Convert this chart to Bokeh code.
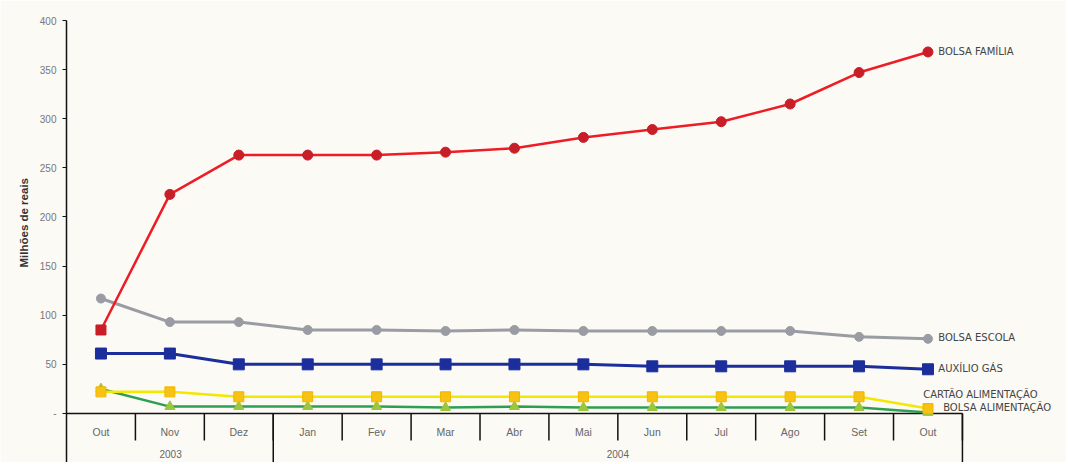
from bokeh.plotting import figure
from bokeh.models import FixedTicker, Title
from bokeh.core.properties import value
from bokeh.embed import file_html
from bokeh.resources import INLINE

months = ["Out", "Nov", "Dez", "Jan", "Fev", "Mar", "Abr", "Mai", "Jun", "Jul", "Ago", "Set", "Out"]
years = ["2003", "2004"]
year_sizes = [3, 10]

bolsa_familia = [85, 223, 263, 263, 263, 266, 270, 281, 289, 297, 315, 347, 368]
bolsa_escola = [117, 93, 93, 85, 85, 84, 85, 84, 84, 84, 84, 78, 76]
auxilio_gas = [61, 61, 50, 50, 50, 50, 50, 50, 48, 48, 48, 48, 45]
cartao_alim = [22, 22, 17, 17, 17, 17, 17, 17, 17, 17, 17, 17, 5]
bolsa_alim = [25, 7, 7, 7, 7, 6, 7, 6, 6, 6, 6, 6, 1]

y_ticks = [0, 50, 100, 150, 200, 250, 300, 350, 400]

BG = "#fbfaf5"
FONT = "Liberation Sans"
LFONT = "DejaVu Sans"

xs = [i + 0.5 for i in range(len(months))]
n = len(months)

p = figure(width=1066, height=462, output_backend="svg", toolbar_location=None,
           x_range=(0, 14.51), y_range=(-49.9, 400),
           min_border_left=66, min_border_right=0, min_border_top=20, min_border_bottom=0,
           background_fill_color=BG, border_fill_color=BG, outline_line_color=None)
p.xaxis.visible = False
p.xgrid.visible = False
p.ygrid.visible = False

ya = p.yaxis[0]
ya.ticker = FixedTicker(ticks=y_ticks)
ya.major_label_overrides = {0: "-"}
ya.minor_tick_line_color = None
ya.major_tick_in = 0
ya.major_tick_out = 4
ya.axis_line_color = "#111111"
ya.axis_line_width = 1.5
ya.major_tick_line_color = "#111111"
ya.major_label_text_font = FONT
ya.major_label_text_font_size = "10px"
ya.major_label_text_color = "#777777"
ya.major_label_standoff = 6

p.add_layout(Title(text="Milhões de reais", align="left", offset=195, standoff=14,
                   text_font=FONT, text_font_size="11.5px", text_font_style="bold",
                   text_color="#333333", background_fill_color=None), "left")

# baseline and category box
p.segment(x0=[0], y0=[0], x1=[n], y1=[0], line_color="#111111", line_width=1.5)
sep_x = list(range(1, n + 1))
p.segment(x0=sep_x, y0=[0] * len(sep_x), x1=sep_x, y1=[-27.5] * len(sep_x),
          line_color="#111111", line_width=1.5)
cum = 0
bounds = []
for s in year_sizes:
    cum += s
    bounds.append(cum)
p.segment(x0=bounds, y0=[0] * len(bounds), x1=bounds, y1=[-50] * len(bounds),
          line_color="#111111", line_width=1.5)

p.text(x=xs, y=[-19.3] * n, text=months, text_align="center", text_baseline="middle",
       text_font=value(FONT), text_font_size="10.5px", text_color="#666666")
year_x = [1.51, 8.0]
p.text(x=year_x, y=[-41.5] * len(years), text=years, text_align="center", text_baseline="middle",
       text_font=value(FONT), text_font_size="10px", text_color="#666666")

# series
p.line(xs, bolsa_alim, line_color="#2e9e52", line_width=2.5)
p.scatter(xs, bolsa_alim, marker="triangle", size=10, fill_color="#9cc63c", line_color="#9cc63c")

p.line(xs, cartao_alim, line_color="#f2e800", line_width=2.5)
p.scatter(xs, cartao_alim, marker="square", size=10, fill_color="#f6c214", line_color="#f4b400")

p.line(xs, auxilio_gas, line_color="#1c2e9c", line_width=3)
p.scatter(xs, auxilio_gas, marker="square", size=11, fill_color="#1c2e9c", line_color="#1c2e9c")

p.line(xs, bolsa_escola, line_color="#9a9ca4", line_width=3)
p.scatter(xs, bolsa_escola, marker="circle", size=9, fill_color="#9a9ca4", line_color="#9a9ca4")

p.line(xs, bolsa_familia, line_color="#ee1c25", line_width=2.5)
p.scatter(xs[:1], bolsa_familia[:1], marker="square", size=10, fill_color="#c81e28", line_color="#c81e28")
p.scatter(xs[1:], bolsa_familia[1:], marker="circle", size=10, fill_color="#c81e28", line_color="#c81e28")

# series labels
lab_x = [12.65, 12.65, 12.65, 12.43, 12.72]
lab_y = [368, 77, 46, 19.5, 6]
lab_t = ["BOLSA FAMÍLIA", "BOLSA ESCOLA", "AUXÍLIO GÁS", "CARTÃO ALIMENTAÇÃO", "BOLSA ALIMENTAÇÃO"]
p.text(x=lab_x, y=lab_y, text=lab_t, text_align="left", text_baseline="middle",
       text_font=value(LFONT), text_font_size="10px", text_color="#444444")

open("out.html", "w").write(file_html(p, INLINE))
